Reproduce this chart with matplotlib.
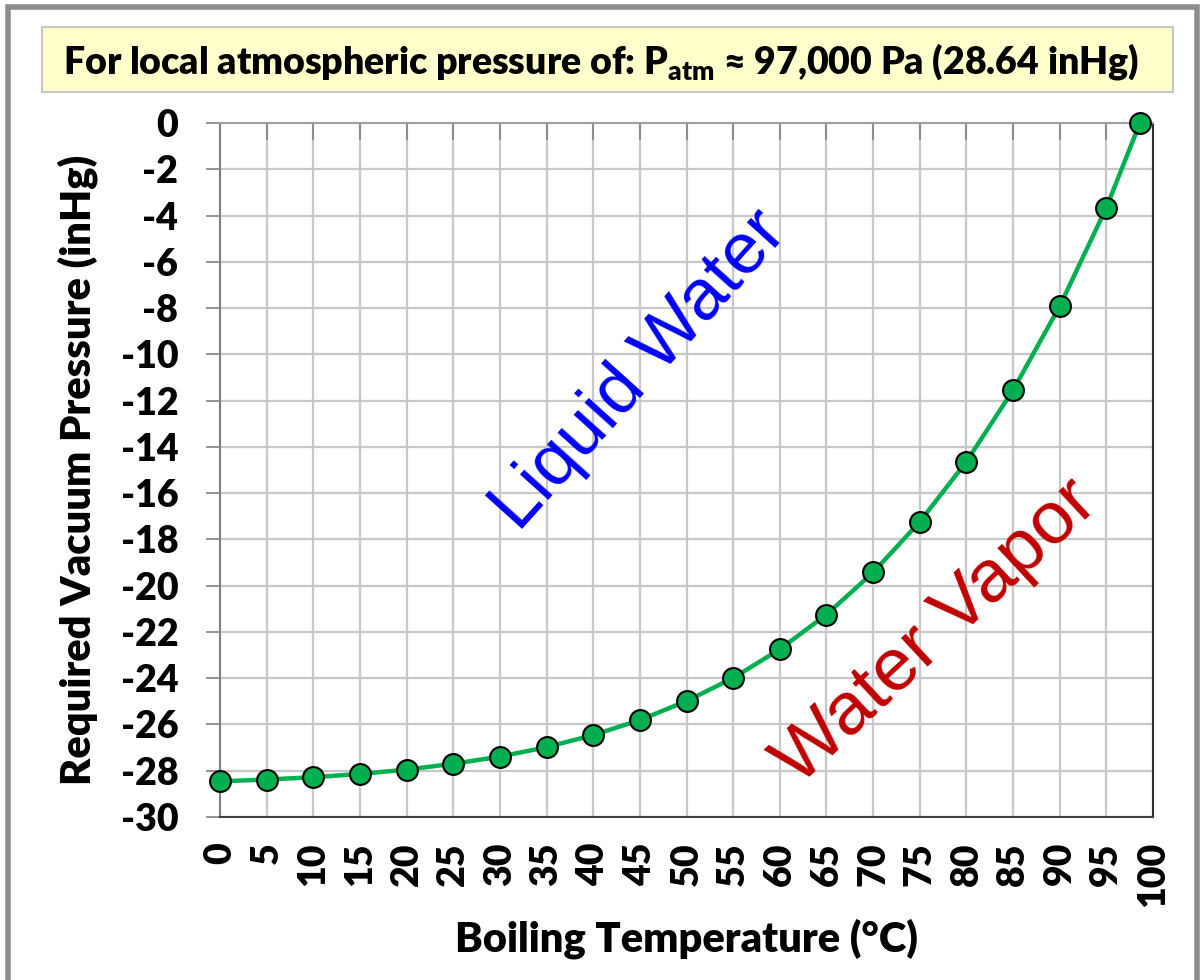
import matplotlib.pyplot as plt
import matplotlib.patches as patches
import numpy as np

# Boiling temperature (C) and required vacuum gauge pressure (inHg)
temps = [0, 5, 10, 15, 20, 25, 30, 35, 40, 45, 50, 55, 60, 65, 70, 75, 80, 85, 90, 95, 98.6]
vacuum = [-28.46, -28.38, -28.28, -28.14, -27.95, -27.70, -27.39, -26.98, -26.46,
          -25.81, -24.99, -23.99, -22.75, -21.25, -19.43, -17.24, -14.64, -11.55,
          -7.92, -3.66, 0.0]

x_ticks = np.arange(0, 101, 5)
y_ticks = np.arange(-30, 1, 2)

title_text = r"For local atmospheric pressure of: P$\mathregular{_{atm}}$ ≈ 97,000 Pa (28.64 inHg)"

plt.rcParams['font.family'] = ['Lato', 'DejaVu Sans']

fig = plt.figure(figsize=(12, 9.8), dpi=100)
W, H = 1200, 980

# outer frame like a spreadsheet chart object
fig.patches.append(patches.Rectangle((8 / W, -0.05), 1189 / W, 1.05 - 7 / H,
                                     transform=fig.transFigure, fill=False,
                                     edgecolor='#8c8c8c', linewidth=4))

# title box
fig.patches.append(patches.Rectangle((42 / W, 1 - 92 / H), 1131 / W, 65 / H,
                                     transform=fig.transFigure, facecolor='#FFFFCC',
                                     edgecolor='#c8c8c8', linewidth=1.5))
fig.text(601 / W, 1 - 62 / H, title_text, ha='center', va='center',
         fontsize=27, fontweight='heavy', color='black')

ax = fig.add_axes([220 / W, 1 - 817 / H, 933 / W, 694 / H])

ax.plot(temps, vacuum, color='#00B050', linewidth=3.2, marker='o', markersize=15,
        markerfacecolor='#00B050', markeredgecolor='black', markeredgewidth=1.5,
        zorder=5, clip_on=False)

ax.set_xlim(0, 100)
ax.set_ylim(-30, 0)
ax.set_xticks(x_ticks)
ax.set_yticks(y_ticks)
ax.set_xticklabels([str(v) for v in x_ticks], rotation=90, fontsize=27, fontweight='heavy')
ax.set_yticklabels([str(v) for v in y_ticks], fontsize=27, fontweight='heavy')

ax.grid(True, color='#c8c8c8', linewidth=1.6)
ax.set_axisbelow(True)

ax.spines['left'].set_color('#808080')
ax.spines['left'].set_linewidth(1.5)
ax.spines['top'].set_color('#a0a0a0')
ax.spines['top'].set_linewidth(1.5)
ax.spines['right'].set_color('#303030')
ax.spines['right'].set_linewidth(1.5)
ax.spines['bottom'].set_color('#404040')
ax.spines['bottom'].set_linewidth(1.5)

ax.tick_params(axis='y', direction='out', length=10, width=1.2, color='#808080', pad=20)

# x-axis crosses at y=0 (top), so its tick marks hang down from the top
ax.tick_params(axis='x', which='both', top=True, bottom=False, labeltop=False,
               labelbottom=True)
ax.tick_params(axis='x', direction='in', length=12, width=1.2, color='#808080', pad=18)

ax.set_xlabel("Boiling Temperature (°C)", fontsize=30, fontweight='heavy', labelpad=8)
ax.set_ylabel("Required Vacuum Pressure (inHg)", fontsize=30, fontweight='heavy', labelpad=16)

ax.text(45, -10.7, "Liquid Water", color='#0000FF', fontsize=52,
        family='Liberation Sans', rotation=48, rotation_mode='anchor',
        ha='center', va='center')
ax.text(76.8, -22.0, "Water Vapor", color='#C00000', fontsize=54,
        family='Liberation Sans', rotation=43, rotation_mode='anchor',
        ha='center', va='center')

plt.savefig('out.png', dpi=100)
plt.close(fig)
